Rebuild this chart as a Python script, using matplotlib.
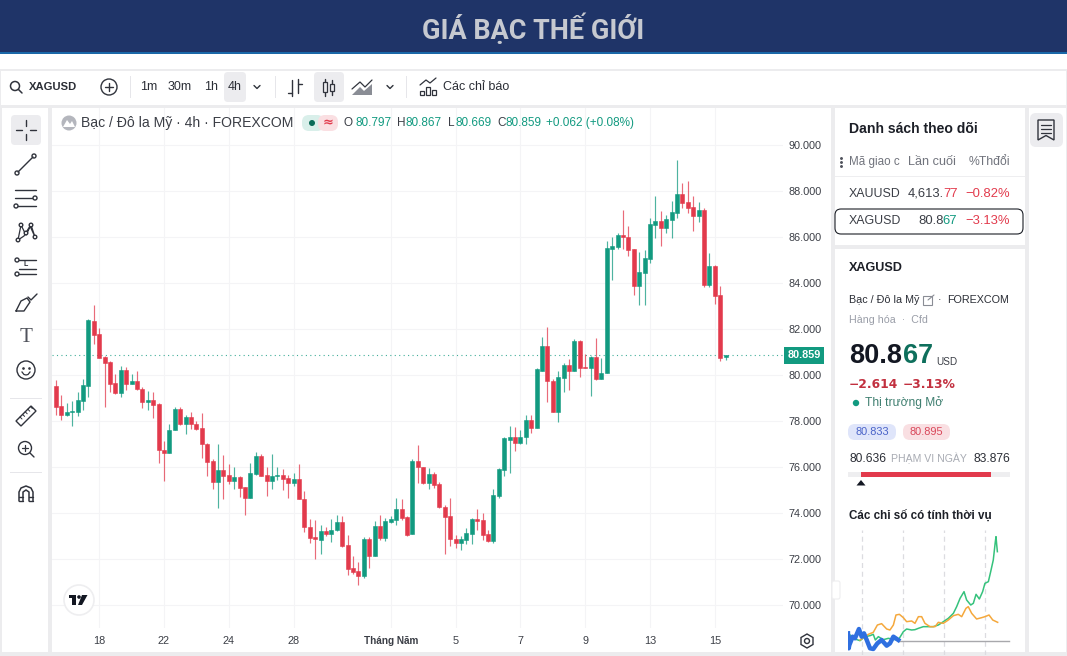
import matplotlib
matplotlib.use("Agg")
import matplotlib.pyplot as plt
from matplotlib.patches import Rectangle, Circle, FancyBboxPatch, Polygon

# ohlc of the 4h candles, oldest first
opens = [79.53, 78.66, 78.27, 78.40, 78.40, 78.87, 79.53, 82.34, 81.79, 80.77, 80.56, 79.64, 79.21, 80.22, 79.61, 79.72, 79.41, 78.83, 78.93, 78.74, 76.74, 76.63, 77.59, 78.51, 77.87,
         78.16, 77.87, 77.69, 77.02, 76.25, 75.35, 75.88, 75.64, 75.40, 75.57, 75.11, 74.64, 75.69, 76.48, 75.64, 75.38, 75.61, 75.64, 75.51, 75.31,
         75.50, 74.63, 73.41, 72.95, 72.83, 73.22, 73.09, 73.24, 73.61, 72.60, 71.59, 71.47, 71.27, 72.87, 72.14, 73.43, 72.90, 73.61, 73.70, 74.16, 73.82, 73.08, 76.25, 76.00, 75.31,
         75.70, 75.27, 74.28, 73.86, 72.86, 72.69, 72.83, 73.09, 73.74, 73.70, 73.08, 72.80, 74.74, 75.86, 77.19, 77.29, 77.06, 77.31, 78.05, 77.70, 80.19, 81.28,
         79.75, 78.40, 79.87, 80.42, 80.16, 81.48, 80.33, 80.30, 80.77, 79.84, 80.10, 85.48, 85.58, 86.07, 86.01, 85.46, 83.87, 84.45, 85.04, 86.54, 86.71, 86.37, 86.75, 87.06,
         87.88, 87.51, 87.30, 86.91, 87.19, 83.91, 84.75, 83.48, 80.797]
highs = [79.79, 79.14, 78.77, 78.85, 79.27, 79.82, 82.42, 83.05, 82.03, 80.83, 80.63, 80.05, 80.40, 80.34, 80.05, 80.19, 79.47, 79.32, 79.28, 78.77, 77.11, 77.86, 78.63, 78.60, 78.27,
         78.38, 78.02, 78.34, 77.03, 76.34, 76.99, 76.51, 76.12, 75.99, 75.61, 75.15, 76.19, 76.64, 76.57, 76.02, 76.57, 75.99, 75.92, 75.64, 75.73,
         76.12, 74.95, 73.73, 73.70, 73.48, 73.38, 73.73, 73.92, 73.85, 73.06, 72.14, 71.87, 72.95, 72.95, 73.64, 73.90, 73.77, 73.87, 74.67, 74.61, 73.85, 76.34, 76.95, 76.02, 75.95,
         75.80, 75.34, 74.35, 74.67, 73.05, 72.98, 73.35, 73.77, 74.16, 74.02, 73.27, 75.06, 75.96, 77.29, 77.80, 77.76, 77.61, 78.26, 78.26, 80.31, 81.67, 82.10,
         79.81, 80.19, 80.51, 80.68, 81.56, 81.52, 80.91, 80.83, 81.59, 80.72, 85.81, 85.98, 86.19, 87.17, 86.48, 85.49, 85.35, 85.43, 86.82, 87.78, 87.14, 86.95, 87.58, 89.35,
         88.33, 88.43, 87.78, 87.53, 87.24, 85.29, 84.77, 83.87, 80.867]
lows = [78.27, 78.05, 78.22, 77.79, 78.22, 78.48, 79.06, 81.34, 80.74, 78.63, 79.28, 79.18, 79.06, 79.35, 79.60, 79.35, 78.56, 78.48, 78.12, 76.17, 75.41, 76.63, 77.59, 77.83, 77.43,
        77.64, 77.59, 76.41, 75.59, 75.06, 74.21, 74.61, 75.24, 75.06, 74.69, 73.93, 74.64, 75.66, 75.61, 74.72, 75.03, 75.44, 75.01, 74.64, 75.18,
        74.61, 73.16, 72.69, 72.02, 72.22, 73.02, 72.76, 73.22, 72.54, 71.32, 71.34, 70.85, 71.16, 71.59, 72.14, 72.83, 72.80, 73.58, 73.47, 73.70, 72.98, 73.08, 75.29, 75.27, 75.03,
        75.09, 74.21, 72.22, 72.57, 72.48, 72.40, 72.66, 72.66, 73.27, 72.83, 72.76, 72.69, 74.67, 75.63, 75.76, 76.71, 77.00, 77.00, 77.50, 77.70, 80.19, 78.84,
        78.38, 77.97, 79.27, 79.35, 80.16, 79.90, 80.29, 79.09, 79.78, 79.84, 80.10, 84.13, 85.49, 85.48, 85.17, 83.48, 83.04, 83.04, 84.88, 85.94, 85.62, 86.19, 85.97, 86.84,
        87.27, 87.03, 86.27, 86.65, 83.84, 83.84, 83.09, 80.62, 80.669]
closes = [78.63, 78.27, 78.40, 78.43, 78.90, 79.56, 82.37, 81.76, 80.74, 80.51, 79.61, 79.21, 80.22, 79.61, 79.72, 79.38, 78.83, 78.93, 78.70, 76.72, 76.63, 77.61, 78.51, 77.87, 78.16,
          77.85, 77.66, 76.99, 76.22, 75.35, 75.88, 75.61, 75.38, 75.57, 75.08, 74.64, 75.75, 76.48, 75.61, 75.38, 75.61, 75.64, 75.46, 75.31, 75.48,
          74.61, 73.38, 72.92, 72.85, 73.21, 73.08, 73.27, 73.61, 72.57, 71.56, 71.44, 71.27, 72.89, 72.14, 73.43, 72.90, 73.66, 73.74, 74.16, 73.79, 73.06, 76.25, 75.98, 75.29, 75.70,
          75.22, 74.25, 73.83, 72.85, 72.69, 72.87, 73.11, 73.76, 73.67, 73.05, 72.79, 74.79, 75.90, 77.24, 77.29, 77.06, 77.32, 78.05, 77.70, 80.25, 81.28, 79.74,
          78.40, 79.90, 80.42, 80.16, 81.49, 80.30, 80.30, 80.78, 79.84, 80.10, 85.51, 85.61, 86.09, 85.98, 85.43, 83.87, 84.48, 85.07, 86.56, 86.71, 86.37, 86.78, 87.07, 87.88,
          87.48, 87.26, 86.93, 87.17, 83.91, 84.75, 83.45, 80.75, 80.859]
price_ticks = [90, 88, 86, 84, 82, 80, 78, 76, 74, 72, 70]
date_ticks = [8, 20, 32, 44, 62, 74, 86, 98, 110, 122]
date_labels = ["18", "22", "24", "28", "Tháng Năm", "5", "7", "9", "13", "15"]

# seasonal panel, month of the year against percent change
green_m = [0.15, 0.51, 0.88, 1.24, 1.61, 1.85, 2.0, 2.22, 2.59, 2.95, 3.32, 3.68, 4.05, 4.29, 4.66, 4.9, 5.15, 5.51, 5.88, 6.24, 6.61, 6.98, 7.34, 7.71, 7.95, 8.2, 8.49, 8.68, 8.98, 9.17, 9.37, 9.61, 9.85, 10.02, 10.27, 10.44, 10.63, 10.78, 10.83, 10.88, 10.93]
green_v = [1.9, 0.7, 0.2, 1.4, 1.7, 2.1, 0.4, 1.4, 0.5, 0.9, 0.6, 0.4, 2.9, 3.7, 3.4, 3.5, 3.9, 4.4, 4.4, 4.4, 4.9, 5.9, 6.9, 8.4, 10.4, 12.9, 14.9, 12.4, 10.9, 11.4, 14.1, 12.7, 14.9, 17.4, 17.9, 20.9, 24.4, 29.9, 31.4, 29.0, 26.9]
orange_m = [0.88, 1.24, 1.49, 1.85, 2.15, 2.46, 2.83, 3.07, 3.32, 3.51, 3.76, 4.05, 4.29, 4.66, 4.9, 5.15, 5.39, 5.63, 6.0, 6.37, 6.61, 6.98, 7.34, 7.71, 8.07, 8.32, 8.63, 8.8, 9.05, 9.41, 9.78, 10.02, 10.32, 10.59, 10.95]
orange_v = [0.4, 1.4, 2.1, 2.7, 4.9, 5.3, 3.7, 3.4, 4.9, 7.9, 8.1, 7.1, 5.9, 6.1, 5.4, 7.4, 7.4, 5.4, 4.4, 4.4, 5.7, 5.4, 6.4, 7.7, 8.1, 7.4, 9.9, 10.4, 8.4, 6.7, 7.1, 7.4, 7.9, 6.4, 5.7]
blue_m = [0.0, 0.05, 0.1, 0.34, 0.51, 0.8, 1.0, 1.17, 1.37, 1.61, 1.85, 2.15, 2.46, 2.83, 3.07, 3.32, 3.68]
blue_v = [2.4, -2.1, -1.1, 1.4, 0.9, 3.7, 1.4, 2.4, 0.4, -2.1, -2.3, -0.6, 0.4, -1.3, -0.6, 1.4, 0.4]
season_lines = [1, 4, 7, 10]

GREEN = "#129a80"
RED = "#e23a4c"
TXT = "#2b2e36"
GREY = "#9a9ea8"
W, H = 1067, 656


def box(x, y, w, h, **kw):
    return fig.add_axes([x / W, 1 - (y + h) / H, w / W, h / H], **kw)


def pixel_axes(zorder):
    a = fig.add_axes([0, 0, 1, 1])
    a.set_xlim(0, W)
    a.set_ylim(H, 0)
    a.axis("off")
    a.set_zorder(zorder)
    return a


def txt(x, y, s, size=12, color=TXT, weight="normal", ha="left", **kw):
    ui.text(x, y + 1, s, fontsize=size * 0.72, color=color, fontweight=weight, ha=ha, va="center", zorder=6, **kw)


def rect(x, y, w, h, color):
    bg.add_patch(Rectangle((x, y), w, h, fc=color, ec="none"))


def pill(x, y, w, h, color, r=4, ec="none"):
    ui.add_patch(FancyBboxPatch((x + r, y + r), w - 2 * r, h - 2 * r, boxstyle="round,pad=%d" % r, fc=color, ec=ec, lw=0.8))


def line(xs, ys, lw=1.0, color="#30333c", zorder=5, **kw):
    ui.plot(xs, ys, lw=lw, color=color, solid_capstyle="round", zorder=zorder, **kw)


def ring(x, y, r, color="#30333c", lw=1.0):
    ui.add_patch(Circle((x, y), r, fc="white", ec=color, lw=lw, zorder=4))


plt.rcParams["font.family"] = ["Liberation Sans", "DejaVu Sans"]
fig = plt.figure(figsize=(W / 100, H / 100), dpi=100, facecolor="white")

# page furniture in pixel units: panels under the chart, text and icons over it
bg = pixel_axes(1)
ui = pixel_axes(4)

rect(0, 0, W, 53, "#1f3468")
rect(0, 52, W, 2, "#1a68a8")
ui.text(533.5, 38.5, "GIÁ BẠC THẾ GIỚI", fontsize=27 * 0.72, color="#c6c9d0", fontweight="bold", ha="center", va="baseline", family="Roboto")

rect(0, 69, W, 587, "#ececee")
rect(1, 71, 1065, 34, "white")
rect(2, 108, 46, 544, "white")
rect(52, 108, 779, 544, "white")
rect(835, 108, 190, 137, "white")
rect(835, 249, 190, 403, "white")
rect(1029, 108, 37, 544, "white")

# top toolbar
ring(15, 86, 4.5, lw=1.1)
line([18.5, 22], [89.5, 93], 1.1)
txt(29, 86, "XAGUSD", 11.2, weight="bold")
ring(109, 87, 8)
line([105, 113], [87, 87])
line([109, 109], [83, 91])
rect(130, 76, 1, 22, "#e6e6ea")
pill(224, 72, 22, 30, "#ececef")
pill(314, 72, 30, 30, "#ececef")
for tx, label in [(149, "1m"), (180, "30m"), (211, "1h"), (235, "4h")]:
    txt(tx, 86, label, 12.5, ha="center")
for cx in [257, 390]:
    line([cx - 3, cx, cx + 3], [85.5, 88.5, 85.5])
rect(275, 76, 1, 22, "#e6e6ea")
rect(406, 76, 1, 22, "#e6e6ea")
line([292, 292], [80, 96])
line([288, 292], [93, 93])
line([298, 298], [79, 93])
line([298, 302], [84, 84])
for cx, top, bot, y0, y1 in [(325, 82, 92, 79, 96), (332, 84, 91, 80, 95)]:
    line([cx, cx], [y0, y1])
    ui.add_patch(Rectangle((cx - 2, top), 4, bot - top, fc="#ececef", ec="#30333c", lw=0.9, zorder=6))
ui.add_patch(Polygon([(352, 95), (360, 87), (364, 91), (372, 84), (372, 95)], fc="#8a8d95", ec="none"))
line([352, 360, 365, 372], [89, 82, 87, 80], 0.9)
for bx, by in [(420, 91), (426, 87), (432, 90)]:
    ui.add_patch(Rectangle((bx, by), 4, 95 - by, fc="none", ec="#30333c", lw=0.9))
line([420, 426, 430, 436], [85, 80, 83, 78], 0.9)
txt(443, 86, "Các chỉ báo", 12.5)

# drawing tools on the left
pill(11, 115, 30, 30, "#ececef")
line([26, 26], [120, 126]); line([26, 26], [134, 140]); line([16, 22], [130, 130]); line([30, 36], [130, 130])
line([18, 33], [172, 157]); ring(17, 173, 2); ring(34, 156, 2)
for yy in [190, 198, 206]:
    line([15, 36], [yy, yy], zorder=2)
ring(35, 198, 2); ring(16, 206, 2)
line([18, 21, 26, 31, 35, 30, 24, 18], [240, 225, 235, 225, 237, 226, 236, 240], 0.9, zorder=2)
for px, py in [(18, 240), (21, 225), (31, 225), (35, 237), (26, 233)]:
    ring(px, py, 1.8)
line([19, 36], [260, 260], zorder=2); line([15, 36], [274, 274], zorder=2); line([19, 36], [269, 269], zorder=2)
ring(17, 260, 2); ring(17, 274, 2)
txt(26, 264, "L", 7, ha="center", weight="bold")
line([16, 21, 27, 30, 24, 16], [311, 301, 298, 302, 311, 311])
line([28, 31, 37], [297, 300, 294])
txt(26, 336, "T", 21, "#50535c", ha="center", family="Liberation Serif")
ring(26, 370, 9)
ui.plot([23, 29], [367.5, 367.5], ".", ms=1.8, color="#30333c", zorder=5)
ui.plot([22, 24, 26, 28, 30], [372, 374.5, 375, 374.5, 372], lw=0.9, color="#30333c", zorder=5)
rect(10, 398, 32, 1, "#e6e6ea")
ui.add_patch(Polygon([(16, 421), (31, 406), (36, 411), (21, 426)], fc="white", ec="#30333c", lw=1))
for k in range(5):
    line([20 + 2.6 * k, 22 + 2.6 * k], [417 - 2.6 * k, 419 - 2.6 * k], 0.7)
ring(25, 448, 6.5)
line([30, 34], [453, 457])
line([22, 28], [448, 448], 0.9)
line([25, 25], [445, 451], 0.9)
rect(10, 472, 32, 1, "#e6e6ea")
line([19, 19, 21, 26, 31, 33, 33], [501, 492, 488, 486, 488, 492, 501], 1.1)
line([23, 23, 26, 29, 29], [501, 492, 490, 492, 501], 1.1)
line([19, 23], [497, 497]); line([29, 33], [497, 497]); line([19, 23], [501, 501]); line([29, 33], [501, 501])

# chart, one pixel of width is 1/5.4 of a candle
n = len(closes)
ax = box(52, 108, 731, 520)
ax.set_zorder(2)
ax.set_facecolor("none")
ax.set_xlim((52 - 56) / 5.4, (783 - 56) / 5.4)
ax.set_ylim(90 - (628 - 145) / 23, 90 + (145 - 108) / 23)
for sp in ax.spines.values():
    sp.set_visible(False)
ax.set_yticks(price_ticks)
ax.set_yticklabels(["%.3f" % p for p in price_ticks], fontsize=7.8, color="#3b3e46")
ax.yaxis.tick_right()
ax.set_xticks(date_ticks)
ax.set_xticklabels(date_labels, fontsize=7.8, color="#3b3e46")
ax.tick_params(length=0)
ax.tick_params(axis="y", pad=4.3)
ax.tick_params(axis="x", pad=5.5)
ax.get_xticklabels()[4].set_fontweight("bold")
ax.get_xticklabels()[4].set_fontsize(7.2)
ax.grid(True, color="#f4f4f6", lw=0.8)
ax.set_axisbelow(True)

colors = [GREEN if closes[i] >= opens[i] else RED for i in range(n)]
ax.vlines(range(n), lows, highs, colors=colors, lw=0.85, alpha=0.75, zorder=2)
ax.bar(range(n), [abs(closes[i] - opens[i]) for i in range(n)], bottom=[min(opens[i], closes[i]) for i in range(n)],
       width=0.76, color=colors, edgecolor=colors, lw=0.4, zorder=3)
ax.axhline(closes[-1], color=GREEN, lw=0.8, ls=(0, (1, 3)), alpha=0.8, zorder=1)
ax.text(1 + 21 / 731, closes[-1], "%.3f" % closes[-1], transform=ax.get_yaxis_transform(), fontsize=7.8, fontweight="bold", color="white",
        ha="center", va="center", bbox=dict(boxstyle="square,pad=0.34", fc=GREEN, ec="none"))

# legend row over the chart
ui.add_patch(Circle((69, 123), 7.5, fc="#b4b6bd", ec="none", zorder=5))
ui.add_patch(Polygon([(63, 127), (67, 120), (70, 124), (72, 121), (75, 127)], fc="white", ec="none", zorder=6))
txt(81, 122, "Bạc / Đô la Mỹ · 4h · FOREXCOM", 14, "#3b3e46")
pill(302, 115, 22, 16, "#d9efea", r=7)
pill(318, 115, 20, 16, "#fadfe2", r=7)
ui.add_patch(Circle((312, 123), 3, fc="#0b6b58", ec="none", zorder=5))
txt(328, 122, "≈", 13, RED, "bold", ha="center", family="DejaVu Sans")
for lx, nx, letter, value in [(344, 355, "O", "80.797"), (397, 406, "H", "80.867"), (448, 456, "L", "80.669"), (497, 506, "C", "80.859")]:
    txt(lx, 122, letter, 11.8, "#3b3e46")
    txt(nx, 122, value, 11.8, GREEN)
txt(546, 122, "+0.062 (+0.08%)", 11.8, GREEN)

# tradingview badge and settings
ring(79, 600, 15, color="#eeeef0", lw=1.2)
ui.add_patch(Polygon([(69, 595), (76, 595), (76, 605), (72, 605), (72, 598), (69, 598)], fc="#131722", ec="none", zorder=5))
ui.add_patch(Circle((79, 597), 1.8, fc="#131722", ec="none", zorder=5))
ui.add_patch(Polygon([(82, 595), (87.5, 595), (82, 605), (78, 605)], fc="#131722", ec="none", zorder=5))
ui.add_patch(Polygon([(807, 634), (813, 637.5), (813, 644.5), (807, 648), (801, 644.5), (801, 637.5)], fc="white", ec="#30333c", lw=1, zorder=4))
ring(807, 641, 2.5)

# watchlist
txt(849, 128, "Danh sách theo dõi", 14, "#1c1f27", "bold")
ui.plot([841, 841, 841], [158, 162, 166], ".", ms=2.2, color="#50535c")
txt(849, 161, "Mã giao c", 11.6, "#70737c")
txt(908, 161, "Lần cuối", 12.6, "#70737c")
txt(1010, 161, "%Thđổi", 12.2, "#70737c", ha="right")
rect(835, 176, 190, 1, "#eeeef0")
pill(835, 209, 188, 25, "white", r=6, ec="#1c1f27")
txt(849, 193, "XAUUSD", 12.4, "#3b3e46")
txt(849, 220, "XAGUSD", 12.4, "#3b3e46")
txt(908, 193, "4,613.", 13, "#3b3e46")
txt(943, 193, "77", 13, RED)
txt(918, 220, "80.8", 13, "#3b3e46")
txt(942, 220, "67", 13, GREEN)
txt(1010, 193, "−0.82%", 13, RED, ha="right")
txt(1010, 220, "−3.13%", 13, RED, ha="right")

# symbol details
txt(849, 267, "XAGUSD", 12.6, "#1c1f27", "bold")
txt(849, 299, "Bạc / Đô la Mỹ", 10.8, "#2b2e36")
ui.add_patch(Rectangle((923, 296), 9, 9, fc="none", ec="#8a8d95", lw=0.8))
line([928, 934], [300, 295], 0.8, "#8a8d95")
txt(940, 299, "·", 11, ha="center")
txt(947, 299, "FOREXCOM", 10.8)
txt(849, 319, "Hàng hóa  ·  Cfd", 10.6, GREY)
txt(849, 355, "80.8", 27, "#131722", "bold")
txt(902.5, 355, "67", 27, "#0e6f5c", "bold")
txt(936, 361, "USD", 10, "#3b3e46")
txt(849, 383, "−2.614", 12.2, "#c2303f", "bold", family="DejaVu Sans")
txt(903, 383, "−3.13%", 12.2, "#c2303f", "bold", family="DejaVu Sans")
ui.add_patch(Circle((856, 403), 3.2, fc=GREEN, ec="none"))
txt(865, 402, "Thị trường Mở", 12, "#3f7f70")
pill(848, 424, 48, 16, "#dfe5fa", r=7)
pill(903, 424, 47, 16, "#f9dfe2", r=7)
txt(872, 431, "80.833", 11, "#4a63c8", ha="center")
txt(926.5, 431, "80.895", 11, "#d9475a", ha="center")
txt(849, 458, "80.636", 12)
txt(929, 457, "PHẠM VI NGÀY", 10.5, "#a8abb3", ha="center")
txt(1010, 458, "83.876", 12, ha="right")
rect(848, 472, 162, 5, "#eeeef0")
rect(861, 472, 130, 5, RED)
ui.add_patch(Polygon([(856.5, 485.5), (861, 480), (865.5, 485.5)], fc="#131722", ec="none"))
txt(849, 515, "Các chỉ số có tính thời vụ", 11.6, "#1c1f27", "bold")
pill(832, 581, 8, 18, "white", r=2, ec="#eeeef0")

# seasonal curves
sx = box(848, 530, 164, 125)
sx.set_facecolor("none")
sx.set_xlim(0, 12)
sx.set_ylim(-4.1, 33.4)
sx.axis("off")
sx.set_zorder(3)
for m in season_lines:
    sx.axvline(m, color="#dcdce0", lw=0.9, ls=(0, (4, 3)))
sx.plot([3.7, 11.8], [0, 0], color="#a8a8ac", lw=1)
sx.plot(green_m, green_v, color="#35c27c", lw=1.1)
sx.plot(orange_m, orange_v, color="#f5a83c", lw=1.1)
sx.plot(blue_m, blue_v, color="#2f6fe0", lw=3.2, solid_joinstyle="round")

# notes button at the far right
pill(1030, 113, 33, 34, "#ececef", r=6)
ui.add_patch(Polygon([(1038, 120), (1054, 120), (1054, 140), (1046, 135.5), (1038, 140)], fc="none", ec="#30333c", lw=1, zorder=4))
for yy in [124.5, 128.5, 132.5]:
    line([1041, 1051], [yy, yy], 0.9)

fig.savefig("out.png", dpi=100)
